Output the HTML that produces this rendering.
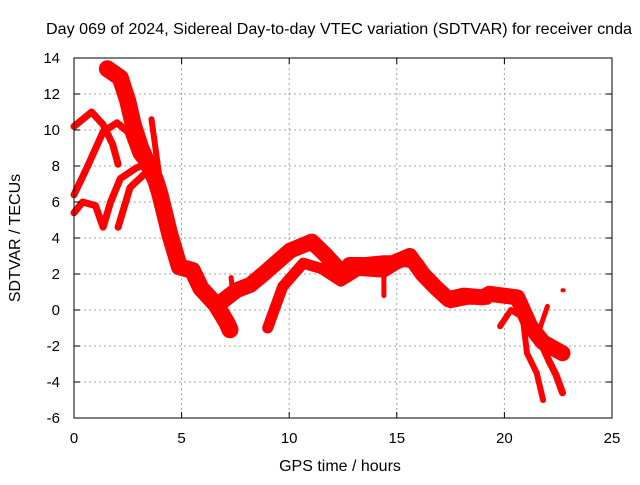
<!DOCTYPE html>
<html><head><meta charset="utf-8"><style>
body{margin:0;background:#fff}
svg text{font-family:"Liberation Sans",sans-serif;font-size:15px;fill:#000}
svg text.big{font-size:16px}
</style></head><body>
<svg id="chart" width="640" height="480" xmlns="http://www.w3.org/2000/svg">
<text class="big" x="339" y="34" text-anchor="middle" textLength="586" lengthAdjust="spacingAndGlyphs">Day 069 of 2024, Sidereal Day-to-day VTEC variation (SDTVAR) for receiver cnda</text>
<text class="big" x="340" y="471" text-anchor="middle">GPS time / hours</text>
<text class="big" transform="translate(20,238) rotate(-90)" text-anchor="middle">SDTVAR / TECUs</text>
<g id="grid"></g><g id="series"></g><g id="axes"></g>
</svg>
<script>
const xTicks=[0,5,10,15,20,25];
const yTicks=[-6,-4,-2,0,2,4,6,8,10,12,14];
const sMain=[[1.55,13.4],[2.15,12.9],[2.5,11.6],[2.75,10.3],[3.1,9.0],[3.4,8.2],[3.8,7.2],[4,6.4],[4.45,4.2],[4.9,2.4],[5.5,2.2],[5.9,1.2],[6.6,0.3],[7.1,-0.7],[7.25,-1.1]];
const sA=[[0,10.2],[0.82,11.0],[1.35,10.3],[1.8,9.2],[2.05,8.1]];
const sB=[[0,6.4],[0.6,7.9],[1.35,9.9],[2,10.4],[2.5,9.9],[2.9,8.6],[3.5,7.7],[4,6.6]];
const sC=[[0,5.4],[0.4,6.0],[1,5.8],[1.35,4.6],[1.7,6.0],[2.15,7.3],[2.9,7.9],[3.4,8.1]];
const sD=[[2.05,4.6],[2.6,6.8],[3.4,7.7],[3.85,8.2]];
const sE=[[3.6,10.6],[3.75,9.3],[4,7.1]];
const sF=[[6.8,0.4],[7.55,1.1],[8.2,1.4],[8.8,2.0],[10.04,3.3],[11.05,3.8],[11.74,3.0],[12.5,2.0],[12.8,2.5],[13.6,2.5],[14.4,2.6],[14.8,2.6],[15.6,3.0],[16.2,2.0],[16.85,1.2],[17.4,0.6],[18.1,0.8],[19,0.7],[19.3,0.9],[20.6,0.7],[21.2,-0.9],[21.8,-1.8],[22.7,-2.4]];
const sG=[[7.3,1.8],[7.4,0.6]];
const sH=[[9.0,-1.0],[9.7,1.3],[10.65,2.6],[11.5,2.3],[12.4,1.6],[13.2,2.2],[14.4,2.1],[15.2,2.7],[16,2.6],[16.9,1.0],[17.5,0.4],[18.3,0.6],[19.2,0.6]];
const sI=[[14.4,2.2],[14.4,0.8]];
const sJ=[[19.8,-0.9],[20.3,0.0],[20.85,-0.4],[21.05,-2.4],[21.5,-3.5],[21.8,-5.0]];
const sK=[[21.3,-0.8],[22.1,-2.9],[22.4,-3.6],[22.7,-4.6]];
const sL=[[21.6,-1.2],[22.0,0.2]];
const sM=[[22.7,1.1],[22.75,1.1]];
const allSeries=[sMain,sA,sB,sC,sD,sE,sF,sG,sH,sI,sJ,sK,sL,sM];
const widths=[17,7,7,7,7,6,16,5,11,5,6,7,5,4];
const X0=74,X1=612,YT=58,YB=418;
const xs=t=>X0+(t-0)/25*(X1-X0);
const ys=v=>YB-(v+6)/20*(YB-YT);
const NS="http://www.w3.org/2000/svg";
const grid=document.getElementById('grid'),axes=document.getElementById('axes'),ser=document.getElementById('series');
function mk(tag,a,p){const e=document.createElementNS(NS,tag);for(const k in a)e.setAttribute(k,a[k]);p.appendChild(e);return e;}
xTicks.forEach(t=>{
 if(t>0&&t<25){const g=mk('line',{x1:xs(t),x2:xs(t),y1:YT,y2:YB,stroke:'#a0a0a0','stroke-dasharray':'2,3'},grid);
 
 }
 const tk=mk('text',{x:xs(t),y:YB+25,'text-anchor':'middle'},axes);tk.textContent=t;
 
 
 mk('line',{x1:xs(t),x2:xs(t),y1:YB,y2:YB-6,stroke:'#000'},axes);
 mk('line',{x1:xs(t),x2:xs(t),y1:YT,y2:YT+6,stroke:'#000'},axes);
});
yTicks.forEach(v=>{
 if(v>-6&&v<14){const g=mk('line',{x1:X0,x2:X1,y1:ys(v),y2:ys(v),stroke:'#a0a0a0','stroke-dasharray':'2,3'},grid);
 
 }
 const tk=mk('text',{x:X0-14,y:ys(v)+5,'text-anchor':'end'},axes);tk.textContent=v;
 
 
 mk('line',{x1:X0,x2:X0+6,y1:ys(v),y2:ys(v),stroke:'#000'},axes);
 mk('line',{x1:X1,x2:X1-6,y1:ys(v),y2:ys(v),stroke:'#000'},axes);
});
const fr=mk('rect',{x:X0,y:YT,width:X1-X0,height:YB-YT,fill:'none',stroke:'#000'},axes);


allSeries.forEach((s,i)=>{
 const pts=s.map(p=>xs(p[0]).toFixed(1)+','+ys(p[1]).toFixed(1)).join(' ');
 const pl=mk('polyline',{points:pts,fill:'none',stroke:'#ff0000','stroke-width':widths[i],'stroke-linejoin':'round','stroke-linecap':'round'},ser);
 
 
});
</script>
</body></html>
